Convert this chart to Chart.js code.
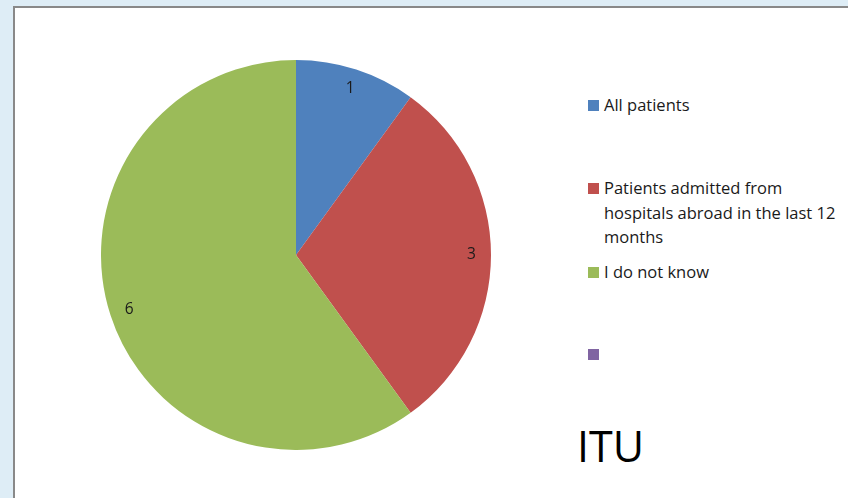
<!DOCTYPE html>
<html>
<head>
<meta charset="utf-8">
<script src="https://cdn.jsdelivr.net/npm/chart.js@4.4.0/dist/chart.umd.min.js"></script>
<style>
  body { margin: 0; background: #deedf6; width: 848px; height: 498px; overflow: hidden; font-family: "Open Sans", sans-serif; }
  #panel { position: absolute; left: 13px; top: 6px; width: 900px; height: 600px; background: #fff; border-left: 2px solid #898989; border-top: 2px solid #898989; }
  #wrap { position: absolute; left: 101px; top: 60px; width: 390px; height: 390px; }
  #legend { position: absolute; left: 588px; top: 0; }
  .item { position: absolute; left: 0; width: 270px; font-size: 16.5px; line-height: 24.5px; color: #1a1a1a; }
  .item .sw { position: absolute; left: 0; top: 7px; width: 11px; height: 11px; }
  .item .tx { margin-left: 16px; display: block; width: 250px; }
  #title { position: absolute; left: 577px; top: 416px; font-size: 43px; color: #000; font-family: "Open Sans", sans-serif; }
</style>
</head>
<body>
<div id="panel"></div>
<div id="wrap"><canvas id="chart"></canvas></div>
<div id="legend"></div>
<div id="title">ITU</div>
<script>
const categories = ['All patients', 'Patients admitted from hospitals abroad in the last 12 months', 'I do not know', ''];
const values = [1, 3, 6, 0];
const colors = ['#4f81bd', '#c0504d', '#9bbb59', '#8064a2'];
const legendTops = [93, 176, 260, 342];

// legend built from the same arrays
const legend = document.getElementById('legend');
for (let i = 0; i < categories.length; i++) {
  const item = document.createElement('div');
  item.className = 'item';
  item.style.top = legendTops[i] + 'px';
  item.innerHTML = '<span class="sw" style="background:' + colors[i] + '"></span><span class="tx"></span>';
  item.querySelector('.tx').textContent = categories[i];
  legend.appendChild(item);
}

// value labels inside slices, near the rim
const sliceLabels = {
  id: 'sliceLabels',
  afterDatasetsDraw(chart) {
    const ctx = chart.ctx;
    const meta = chart.getDatasetMeta(0);
    ctx.save();
    ctx.font = '15.5px "Open Sans", sans-serif';
    ctx.fillStyle = '#1a1a1a';
    ctx.textAlign = 'center';
    ctx.textBaseline = 'middle';
    meta.data.forEach(function(arc, i) {
      if (!values[i]) return;
      const mid = (arc.startAngle + arc.endAngle) / 2;
      const r = arc.outerRadius * 0.9;
      ctx.fillText(String(values[i]), arc.x + Math.cos(mid) * r, arc.y + Math.sin(mid) * r);
    });
    ctx.restore();
  }
};

const ctx = document.getElementById('chart').getContext('2d');
new Chart(ctx, {
  type: 'pie',
  data: {
    labels: categories,
    datasets: [{
      data: values,
      backgroundColor: colors,
      borderWidth: 0
    }]
  },
  options: {
    responsive: true,
    maintainAspectRatio: false,
    animation: false,
    layout: { padding: 0 },
    plugins: {
      legend: { display: false },
      tooltip: { enabled: false }
    }
  },
  plugins: [sliceLabels]
});
</script>
</body>
</html>
